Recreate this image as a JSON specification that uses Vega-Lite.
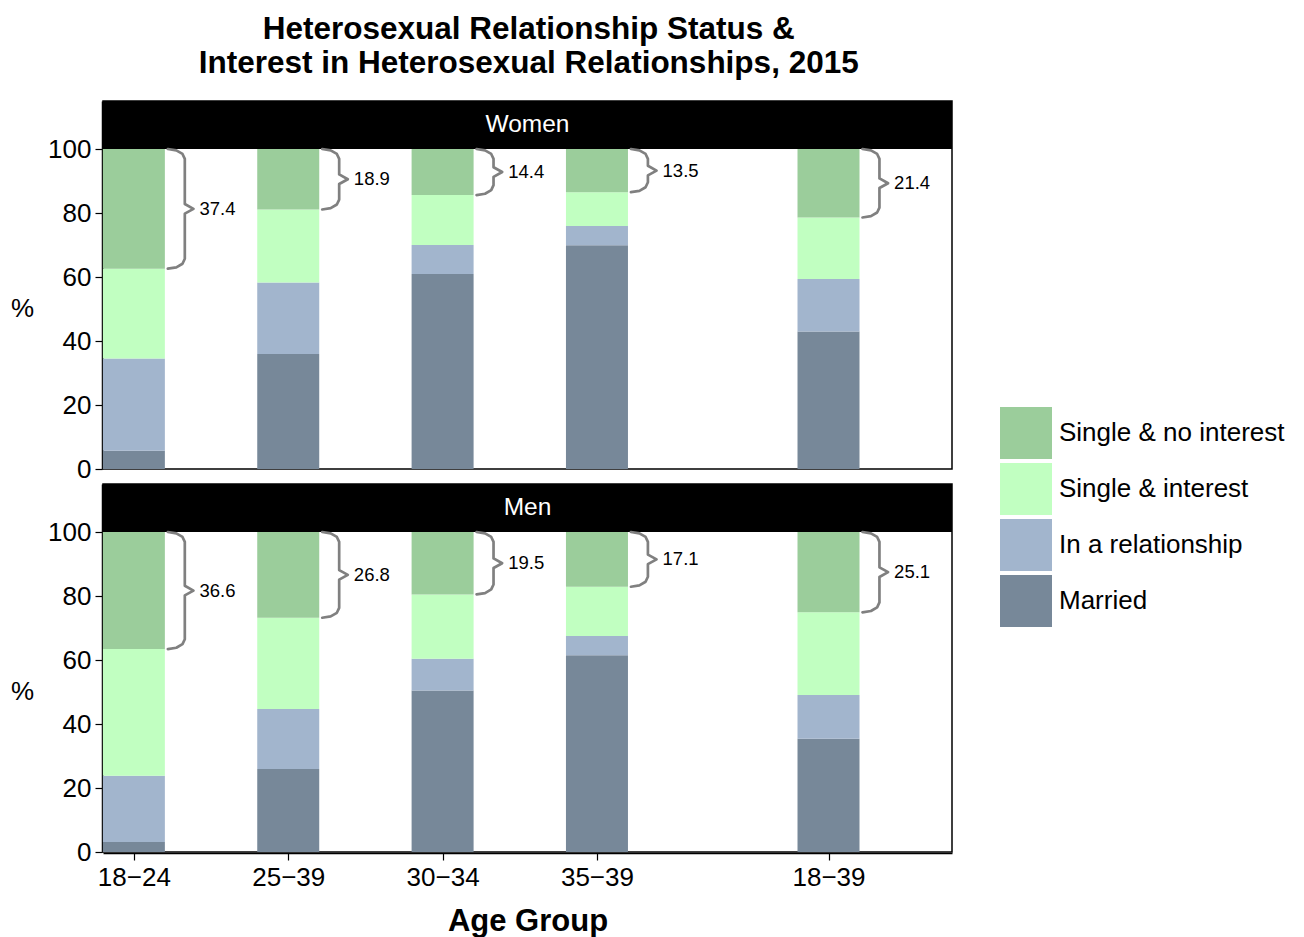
{
  "$schema": "https://vega.github.io/schema/vega-lite/v6.json",
  "padding": {"left": 10, "top": 13, "right": 5, "bottom": 5},
  "background": "white",
  "title": {
    "text": ["Heterosexual Relationship Status &", "Interest in Heterosexual Relationships, 2015"],
    "fontSize": 31.5,
    "fontWeight": "bold",
    "anchor": "middle",
    "lineHeight": 34,
    "offset": 21,
    "dx": -119,
    "color": "black"
  },
  "data": {
    "values": [
      {"sex": "Women", "age": "18−24", "status": "Married", "value": 5.7},
      {"sex": "Women", "age": "18−24", "status": "In a relationship", "value": 28.8},
      {"sex": "Women", "age": "18−24", "status": "Single & interest", "value": 28.1},
      {"sex": "Women", "age": "18−24", "status": "Single & no interest", "value": 37.4},
      {"sex": "Women", "age": "25−39", "status": "Married", "value": 35.9},
      {"sex": "Women", "age": "25−39", "status": "In a relationship", "value": 22.4},
      {"sex": "Women", "age": "25−39", "status": "Single & interest", "value": 22.8},
      {"sex": "Women", "age": "25−39", "status": "Single & no interest", "value": 18.9},
      {"sex": "Women", "age": "30−34", "status": "Married", "value": 60.9},
      {"sex": "Women", "age": "30−34", "status": "In a relationship", "value": 9.1},
      {"sex": "Women", "age": "30−34", "status": "Single & interest", "value": 15.6},
      {"sex": "Women", "age": "30−34", "status": "Single & no interest", "value": 14.4},
      {"sex": "Women", "age": "35−39", "status": "Married", "value": 69.9},
      {"sex": "Women", "age": "35−39", "status": "In a relationship", "value": 6.0},
      {"sex": "Women", "age": "35−39", "status": "Single & interest", "value": 10.6},
      {"sex": "Women", "age": "35−39", "status": "Single & no interest", "value": 13.5},
      {"sex": "Women", "age": "18−39", "status": "Married", "value": 43.0},
      {"sex": "Women", "age": "18−39", "status": "In a relationship", "value": 16.4},
      {"sex": "Women", "age": "18−39", "status": "Single & interest", "value": 19.2},
      {"sex": "Women", "age": "18−39", "status": "Single & no interest", "value": 21.4},
      {"sex": "Men", "age": "18−24", "status": "Married", "value": 3.1},
      {"sex": "Men", "age": "18−24", "status": "In a relationship", "value": 20.7},
      {"sex": "Men", "age": "18−24", "status": "Single & interest", "value": 39.6},
      {"sex": "Men", "age": "18−24", "status": "Single & no interest", "value": 36.6},
      {"sex": "Men", "age": "25−39", "status": "Married", "value": 25.9},
      {"sex": "Men", "age": "25−39", "status": "In a relationship", "value": 18.8},
      {"sex": "Men", "age": "25−39", "status": "Single & interest", "value": 28.5},
      {"sex": "Men", "age": "25−39", "status": "Single & no interest", "value": 26.8},
      {"sex": "Men", "age": "30−34", "status": "Married", "value": 50.5},
      {"sex": "Men", "age": "30−34", "status": "In a relationship", "value": 9.9},
      {"sex": "Men", "age": "30−34", "status": "Single & interest", "value": 20.1},
      {"sex": "Men", "age": "30−34", "status": "Single & no interest", "value": 19.5},
      {"sex": "Men", "age": "35−39", "status": "Married", "value": 61.5},
      {"sex": "Men", "age": "35−39", "status": "In a relationship", "value": 6.0},
      {"sex": "Men", "age": "35−39", "status": "Single & interest", "value": 15.4},
      {"sex": "Men", "age": "35−39", "status": "Single & no interest", "value": 17.1},
      {"sex": "Men", "age": "18−39", "status": "Married", "value": 35.4},
      {"sex": "Men", "age": "18−39", "status": "In a relationship", "value": 13.7},
      {"sex": "Men", "age": "18−39", "status": "Single & interest", "value": 25.8},
      {"sex": "Men", "age": "18−39", "status": "Single & no interest", "value": 25.1}
    ]
  },
  "transform": [
    {"calculate": "datum.age == '18−39' ? 5.5 : indexof(['18−24', '25−39', '30−34', '35−39'], datum.age) + 1", "as": "pos"},
    {"calculate": "indexof(['Married', 'In a relationship', 'Single & interest', 'Single & no interest'], datum.status)", "as": "rank"}
  ],
  "facet": {
    "row": {"field": "sex", "type": "nominal", "sort": ["Women", "Men"], "title": null, "header": {"labels": false, "title": null}}
  },
  "spacing": 13,
  "spec": {
    "width": 849,
    "height": 368,
    "layer": [
      {
        "mark": {"type": "bar", "width": 62},
        "encoding": {
          "x": {
            "field": "pos",
            "type": "quantitative",
            "scale": {"domain": [0.8, 6.3], "nice": false, "zero": false, "padding": 0},
            "axis": {
              "values": [1, 2, 3, 4, 5.5],
              "labelExpr": "datum.value == 1 ? '18−24' : datum.value == 2 ? '25−39' : datum.value == 3 ? '30−34' : datum.value == 4 ? '35−39' : '18−39'",
              "title": "Age Group",
              "titleFontSize": 31,
              "titleFontWeight": "bold",
              "titlePadding": 16,
              "labelFontSize": 26,
              "labelPadding": 4,
              "tickSize": 7,
              "grid": false
            }
          },
          "y": {
            "field": "value",
            "type": "quantitative",
            "stack": "zero",
            "scale": {"domain": [0, 115], "nice": false},
            "axis": {
              "values": [0, 10, 20, 30, 40, 50, 60, 70, 80, 90, 100],
              "labelExpr": "datum.value % 20 == 0 ? datum.label : ''",
              "title": "%",
              "titleAngle": 0,
              "titleFontSize": 26,
              "titleFontWeight": "normal",
              "titleAlign": "center",
              "titleBaseline": "middle",
              "titleX": -80,
              "titleY": 207,
              "labelFontSize": 26,
              "labelPadding": 4,
              "tickSize": 7,
              "grid": false
            }
          },
          "color": {
            "field": "status",
            "type": "nominal",
            "scale": {
              "domain": ["Single & no interest", "Single & interest", "In a relationship", "Married"],
              "range": ["#9BCD9B", "#C1FFC1", "#A2B5CD", "#778899"]
            },
            "legend": {
              "title": null,
              "orient": "none",
              "legendX": 897,
              "legendY": 306,
              "symbolType": "square",
              "symbolSize": 2704,
              "symbolStrokeWidth": 0,
              "symbolOpacity": 1,
              "labelFontSize": 26,
              "labelColor": "black",
              "labelOffset": 7,
              "rowPadding": 4,
              "labelLimit": 400
            }
          },
          "order": {"field": "rank", "type": "quantitative"}
        }
      },
      {
        "transform": [{"aggregate": [{"op": "count", "as": "n"}], "groupby": ["sex"]}],
        "mark": {"type": "rect", "color": "black"},
        "encoding": {
          "x": {"datum": 0.8, "type": "quantitative"},
          "x2": {"datum": 6.3},
          "y": {"datum": 100, "type": "quantitative"},
          "y2": {"datum": 115}
        }
      },
      {
        "transform": [
          {"filter": "datum.status == 'Single & no interest'"},
          {"calculate": "100 - datum.value", "as": "bot"},
          {"calculate": "100 - datum.value / 2", "as": "mid"},
          {"calculate": "[datum.pos + 0.22, datum.pos + 0.275, datum.pos + 0.315, datum.pos + 0.33, datum.pos + 0.33, datum.pos + 0.386, datum.pos + 0.33, datum.pos + 0.33, datum.pos + 0.315, datum.pos + 0.275, datum.pos + 0.22]", "as": "bx"},
          {"calculate": "[100, 99.58, 98.45, 96.9, datum.mid + 1.5, datum.mid, datum.mid - 1.5, datum.bot + 3.1, datum.bot + 1.55, datum.bot + 0.42, datum.bot]", "as": "by"},
          {"calculate": "[0, 1, 2, 3, 4, 5, 6, 7, 8, 9, 10]", "as": "bi"},
          {"flatten": ["bx", "by", "bi"]}
        ],
        "mark": {"type": "line", "color": "#808080", "strokeWidth": 2.7, "strokeJoin": "round", "strokeCap": "round"},
        "encoding": {
          "x": {"field": "bx", "type": "quantitative"},
          "y": {"field": "by", "type": "quantitative"},
          "detail": {"field": "age"},
          "order": {"field": "bi", "type": "quantitative"}
        }
      },
      {
        "transform": [
          {"filter": "datum.status == 'Single & no interest'"},
          {"calculate": "100 - datum.value / 2", "as": "mid"},
          {"calculate": "datum.pos + 0.425", "as": "lx"}
        ],
        "mark": {"type": "text", "align": "left", "baseline": "middle", "fontSize": 18.5, "color": "black"},
        "encoding": {
          "x": {"field": "lx", "type": "quantitative"},
          "y": {"field": "mid", "type": "quantitative"},
          "text": {"field": "value", "type": "quantitative", "format": ".1f"}
        }
      },
      {
        "transform": [{"aggregate": [{"op": "count", "as": "n"}], "groupby": ["sex"]}],
        "mark": {"type": "text", "color": "white", "fontSize": 24.5, "baseline": "middle", "align": "center"},
        "encoding": {
          "x": {"datum": 3.55, "type": "quantitative"},
          "y": {"datum": 107.5, "type": "quantitative"},
          "text": {"field": "sex"}
        }
      }
    ]
  },
  "config": {
    "font": "Liberation Sans",
    "view": {"stroke": "black", "strokeWidth": 1.5},
    "axis": {
      "domainColor": "black",
      "domainWidth": 1.5,
      "tickColor": "black",
      "tickWidth": 1.2,
      "labelColor": "black",
      "titleColor": "black"
    }
  }
}
